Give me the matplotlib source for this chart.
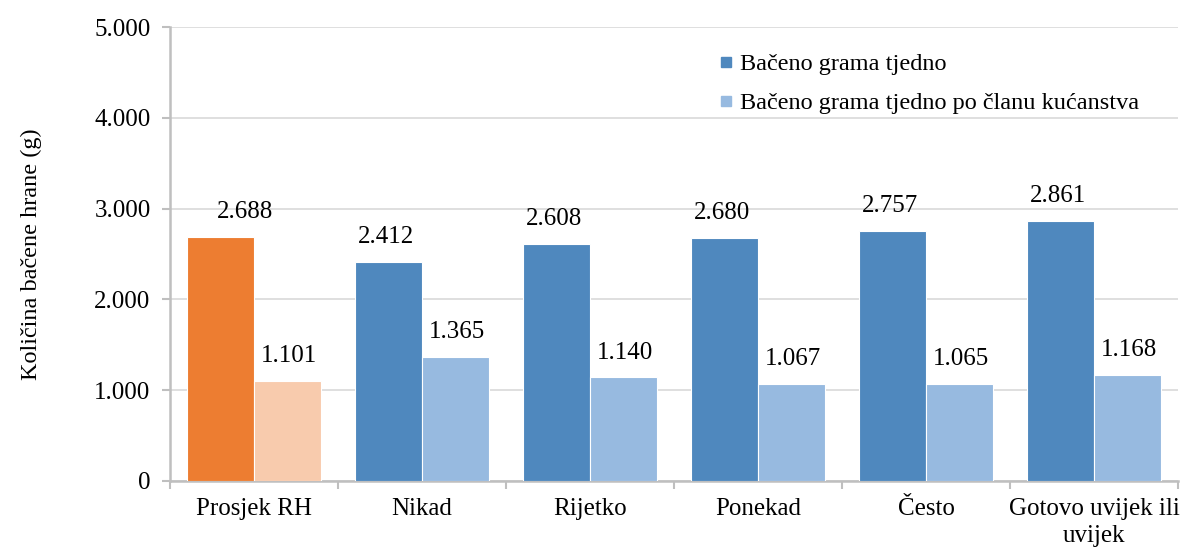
import matplotlib.pyplot as plt
import numpy as np

plt.rcParams['font.family'] = ['Liberation Serif', 'DejaVu Serif']

categories = ["Prosjek RH", "Nikad", "Rijetko", "Ponekad", "Često", "Gotovo uvijek ili\nuvijek"]
weekly = [2688, 2412, 2608, 2680, 2757, 2861]
per_member = [1101, 1365, 1140, 1067, 1065, 1168]
series_names = ["Bačeno grama tjedno", "Bačeno grama tjedno po članu kućanstva"]
yticks = [0, 1000, 2000, 3000, 4000, 5000]
ytick_labels = ["0", "1.000", "2.000", "3.000", "4.000", "5.000"]

blue = "#4F88BE"
light_blue = "#97BAE0"
orange = "#ED7D31"
light_orange = "#F8CBAD"
grey = "#BFBFBF"


def fmt(v):
    return "{:,}".format(v).replace(",", ".")


fig = plt.figure(figsize=(11.88, 5.47), dpi=100)
ax = fig.add_axes([0.1431, 0.1207, 0.8485, 0.8299])

x = np.arange(len(categories))
w = 0.4
c1 = [orange] + [blue] * (len(x) - 1)
c2 = [light_orange] + [light_blue] * (len(x) - 1)
b1 = ax.bar(x - w / 2, weekly, w, color=c1, edgecolor="white", linewidth=0.8, zorder=3)
b2 = ax.bar(x + w / 2, per_member, w, color=c2, edgecolor="white", linewidth=0.8, zorder=3)

for i, (rect, v) in enumerate(zip(b1, weekly)):
    dx = 18 if i == 0 else -2
    ax.annotate(fmt(v), (rect.get_x() + rect.get_width() / 2, v), xytext=(dx, 10),
                textcoords="offset points", ha="center", va="bottom", fontsize=18)
for rect, v in zip(b2, per_member):
    ax.annotate(fmt(v), (rect.get_x() + rect.get_width() / 2, v), xytext=(1, 10),
                textcoords="offset points", ha="center", va="bottom", fontsize=18)

ax.set_xlim(-0.5, len(x) - 0.5)
ax.set_ylim(0, 5000)
ax.set_yticks(yticks)
ax.set_yticklabels(ytick_labels, fontsize=18)
ax.set_xticks(x)
ax.set_xticklabels(categories, fontsize=18, linespacing=1.3)
ax.set_xticks(np.arange(len(x) + 1) - 0.5, minor=True)
ax.tick_params(axis="x", which="major", length=0, pad=12)
ax.tick_params(axis="x", which="minor", length=6, width=1.5, color=grey)
ax.tick_params(axis="y", length=6, width=1.5, color=grey, pad=8)

ax.grid(axis="y", color="#D9D9D9", linewidth=1.2, zorder=0)
ax.set_axisbelow(True)
for s in ["top", "right"]:
    ax.spines[s].set_visible(False)
for s in ["left", "bottom"]:
    ax.spines[s].set_color(grey)
    ax.spines[s].set_linewidth(1.8)

ax.set_ylabel("Količina bačene hrane (g)", fontsize=17.5, labelpad=38)

handles = [plt.Line2D([], [], marker="s", linestyle="", markersize=7.5, color=blue),
           plt.Line2D([], [], marker="s", linestyle="", markersize=7.5, color=light_blue)]
ax.legend(handles, series_names, loc="upper left", bbox_to_anchor=(0.518, 0.99),
          frameon=False, fontsize=17.5, handletextpad=0.05, labelspacing=0.7,
          handlelength=1.0)

fig.savefig("out.png", dpi=100)
